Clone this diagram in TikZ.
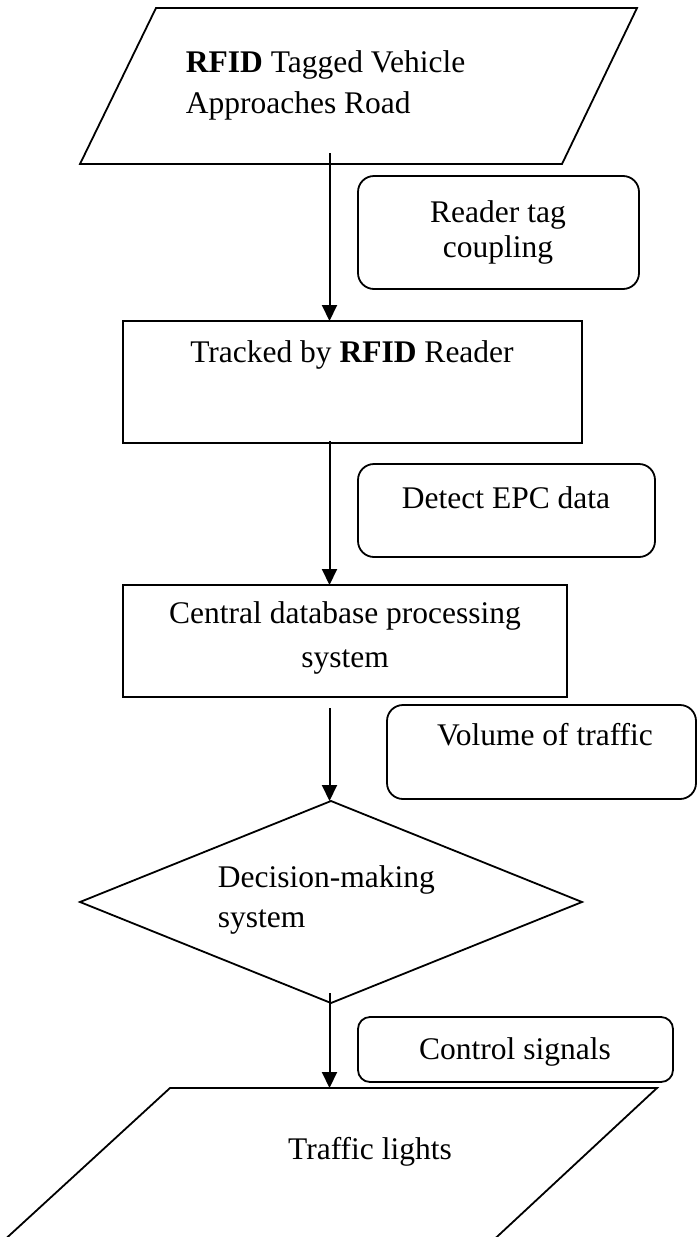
\documentclass[tikz,border=0pt]{standalone}
\usepackage{fontspec}
\setmainfont{Liberation Serif}
\usetikzlibrary{arrows.meta}
\tikzset{
  flow/.style={line width=1pt,-{Triangle[length=8pt,width=7.5pt]}},
  lbl/.style={font=\fontsize{15.75}{21}\selectfont,inner sep=0pt,anchor=base},
}
\begin{document}
\begin{tikzpicture}[x=.5pt,y=-.5pt,line width=.9pt]
\useasboundingbox (0,0) rectangle (697,1237);
\clip (0,0) rectangle (697,1237);
% vehicle on the road (input)
\draw(156,8)--(637,8)--(562,164)--(80,164)--cycle;
\node[lbl,anchor=base west] (veh1) at (185,72) {\textbf{RFID} Tagged Vehicle};
\node[lbl,anchor=base west] (veh2) at (185,113) {Approaches Road};
% reader
\draw(123,321)rectangle(582,443);
\node[lbl] (track) at (352,362) {Tracked by \textbf{RFID} Reader};
% database
\draw(123,585)rectangle(567,697);
\node[lbl] (db1) at (345,623) {Central database processing};
\node[lbl] (db2) at (345,667) {system};
% decision
\draw(331,801)--(582,902)--(331,1003)--(80,902)--cycle;
\node[lbl,anchor=base west] (dec1) at (217,887) {Decision-making};
\node[lbl,anchor=base west] (dec2) at (217,927) {system};
% traffic lights (output), runs off the page
\draw(170,1088)--(657,1088)--(429,1300)--(-61,1300)--cycle;
\node[lbl] (lights) at (370,1159) {Traffic lights};
% side notes
\begin{scope}[rounded corners=8pt]
\draw(358,176)rectangle(639,289);
\draw(358,464)rectangle(655,557);
\draw(387,705)rectangle(696,799);
\end{scope}
\draw[rounded corners=6pt](358,1017)rectangle(673,1082);
\node[lbl] (note1a) at (498,222) {Reader tag};
\node[lbl] (note1b) at (498,257) {coupling};
\node[lbl] (note2) at (506,508) {Detect EPC data};
\node[lbl] (note3) at (545,745) {Volume of traffic};
\node[lbl] (note4) at (515,1059) {Control signals};
% arrow ends
\def\ax{329.5}
\coordinate (vehout) at (\ax,153);
\coordinate (trackin) at (\ax,321);
\coordinate (trackout) at (\ax,441);
\coordinate (dbin) at (\ax,585);
\coordinate (dbout) at (\ax,708);
\coordinate (decin) at (\ax,801);
\coordinate (decout) at (\ax,993);
\coordinate (lightsin) at (\ax,1088);
\draw[flow](vehout)--(trackin);
\draw[flow](trackout)--(dbin);
\draw[flow](dbout)--(decin);
\draw[flow](decout)--(lightsin);
\end{tikzpicture}
\end{document}
